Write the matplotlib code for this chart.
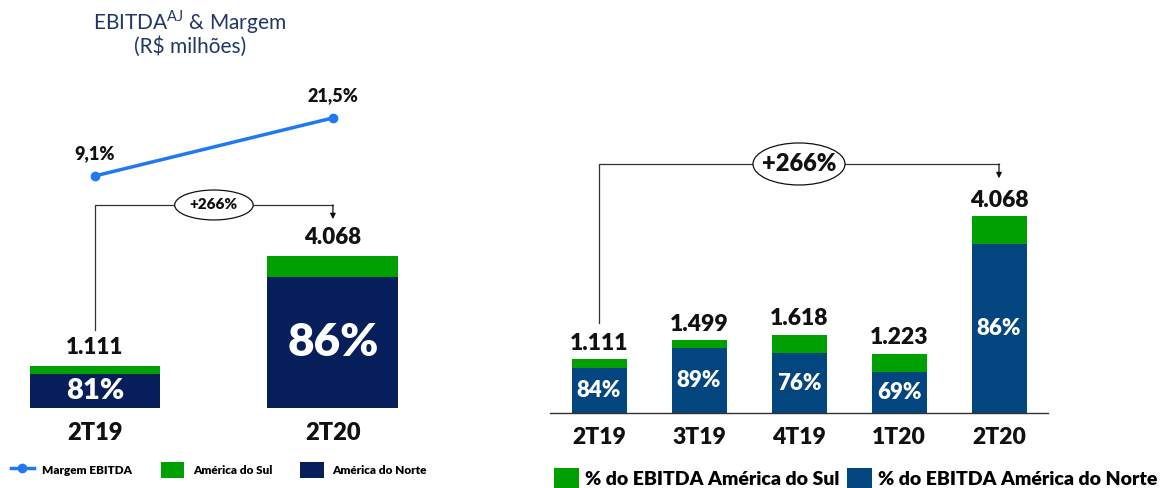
import numpy as np
import matplotlib.pyplot as plt
from matplotlib.patches import Ellipse

plt.rcParams['font.family'] = ['Lato', 'DejaVu Sans']
plt.rcParams['mathtext.fontset'] = 'custom'
plt.rcParams['mathtext.rm'] = 'Lato'

# left panel data
left_cats = ['2T19', '2T20']
left_total = [1111, 4068]
left_norte_pct = [81, 86]
left_margin = [9.1, 21.5]

# right panel data
right_cats = ['2T19', '3T19', '4T19', '1T20', '2T20']
right_total = [1111, 1499, 1618, 1223, 4068]
right_norte_pct = [84, 89, 76, 69, 86]

growth = '+266%'

navy = '#061f5b'
blue = '#03467f'
green = '#00a000'
line_blue = '#2079f0'
W8 = 'heavy'

W, H = 1165, 488
fig = plt.figure(figsize=(W / 100, H / 100), dpi=100)


def fmt(v):
    return f"{v:,}".replace(",", ".")


# ---------------- left panel ----------------
ax = fig.add_axes([0, (H - 408) / H, 430 / W, 408 / H])
ax2 = ax.twinx()
for a in (ax, ax2):
    for s in a.spines.values():
        s.set_visible(False)
ax.set_xlim(-0.399, 1.408)
ax.set_ylim(0, 10909)
ax2.set_ylim(-40.5, 46.7)
ax2.set_yticks([])

xl = np.arange(len(left_cats))
tot = np.array(left_total)
norte = tot * np.array(left_norte_pct) / 100
b_norte = ax.bar(xl, norte, width=0.55, color=navy, label='América do Norte')
b_sul = ax.bar(xl, tot - norte, bottom=norte, width=0.55, color=green, label='América do Sul')

for i in range(len(xl)):
    ax.annotate(fmt(left_total[i]), (xl[i], tot[i]), xytext=(0, 6), textcoords='offset points',
                ha='center', va='bottom', fontsize=16, fontweight=W8, color='#111111')
    size = 21 if i == 0 else 33
    ax.text(xl[i], norte[i] / 2, f"{left_norte_pct[i]}%", ha='center', va='center',
            fontsize=size, fontweight=W8, color='white')

ax.set_xticks(xl, left_cats)
ax.set_yticks([])
ax.tick_params(axis='x', length=0, pad=10, labelsize=17)
for t in ax.get_xticklabels():
    t.set_fontweight(W8)
    t.set_color('#111111')

l_margin, = ax2.plot(xl, left_margin, '-o', color=line_blue, lw=2.5, ms=6, label='Margem EBITDA')
for i in range(len(xl)):
    ax2.annotate(f"{left_margin[i]:.1f}%".replace('.', ','), (xl[i], left_margin[i]), xytext=(0, 10),
                 textcoords='offset points', ha='center', va='bottom', fontsize=13,
                 fontweight=W8, color='#111111')

# growth bracket (left)
ax.plot([0, 0, 1], [2085, 5428, 5428], color='#333333', lw=0.9)
ax.annotate('', xy=(1, 5050), xytext=(1, 5428),
            arrowprops=dict(arrowstyle='-|>', color='#111111', lw=0.9, mutation_scale=8, shrinkA=0, shrinkB=0))
ax.add_patch(Ellipse((0.5, 5428), 0.33, 800, fc='white', ec='#111111', lw=0.9, zorder=3))
ax.text(0.5, 5428, growth, ha='center', va='center', fontsize=11, fontweight=W8, color='#111111', zorder=4)

fig.text(190 / W, 1 - 22 / H, r'EBITDA$^{\mathrm{AJ}}$ & Margem', ha='center', va='center',
         fontsize=15, color='#1f3864')
fig.text(190 / W, 1 - 47 / H, '(R$ milhões)', ha='center', va='center', fontsize=15, color='#1f3864')

leg1 = fig.legend(handles=[l_margin, b_sul, b_norte], loc='center left', bbox_to_anchor=(0 / W, 1 - 470 / H),
                  ncol=3, frameon=False, prop=dict(size=8.5, weight=W8), handlelength=2.0,
                  handleheight=1.7, columnspacing=2.4, handletextpad=0.7)

# ---------------- right panel ----------------
bx = fig.add_axes([550 / W, (H - 413) / H, 498 / W, 413 / H])
for k, s in bx.spines.items():
    s.set_visible(k == 'bottom')
bx.spines['bottom'].set_color('#333333')
bx.spines['bottom'].set_linewidth(1.0)
bx.set_xlim(-0.49, 4.49)
bx.set_ylim(0, 8533)

xr = np.arange(len(right_cats))
rt = np.array(right_total)
rn = rt * np.array(right_norte_pct) / 100
r_norte = bx.bar(xr, rn, width=0.55, color=blue, label='% do EBITDA América do Norte')
r_sul = bx.bar(xr, rt - rn, bottom=rn, width=0.55, color=green, label='% do EBITDA América do Sul')

for i in range(len(xr)):
    bx.annotate(fmt(right_total[i]), (xr[i], rt[i]), xytext=(0, 4), textcoords='offset points',
                ha='center', va='bottom', fontsize=16.5, fontweight=W8, color='#111111')
    bx.text(xr[i], rn[i] / 2, f"{right_norte_pct[i]}%", ha='center', va='center',
            fontsize=16, fontweight=W8, color='white')

bx.set_xticks(xr, right_cats)
bx.set_yticks([])
bx.tick_params(axis='x', length=0, pad=10, labelsize=16.5)
for t in bx.get_xticklabels():
    t.set_fontweight(W8)
    t.set_color('#111111')

# growth bracket (right)
bx.plot([0, 0, 4], [1860, 5145, 5145], color='#333333', lw=0.9)
bx.annotate('', xy=(4, 4850), xytext=(4, 5145),
            arrowprops=dict(arrowstyle='-|>', color='#111111', lw=0.9, mutation_scale=8, shrinkA=0, shrinkB=0))
bx.add_patch(Ellipse((2, 5145), 0.92, 868, fc='white', ec='#111111', lw=0.9, zorder=3))
bx.text(2, 5145, growth, ha='center', va='center', fontsize=17, fontweight=W8, color='#111111', zorder=4)

leg2 = fig.legend(handles=[r_sul, r_norte], loc='center left', bbox_to_anchor=(536 / W, 1 - 479 / H),
                  ncol=2, frameon=False, prop=dict(size=14, weight=W8), handlelength=1.3,
                  handleheight=1.4, columnspacing=0.4, handletextpad=0.3)

fig.savefig('out.png', dpi=100)
